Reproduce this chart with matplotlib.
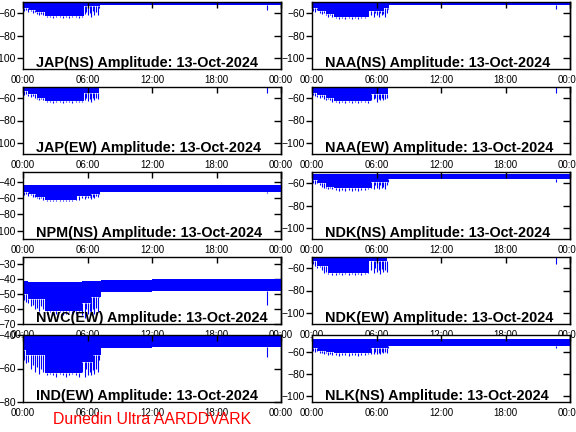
import numpy as np
import matplotlib
matplotlib.use("Agg")
from matplotlib import pyplot as plt  # noqa

plt.rcParams['font.family'] = ['Liberation Sans', 'DejaVu Sans']

date_label = '13-Oct-2024'
hour_ticks = [0, 6, 12, 18, 24]
hour_labels = ['00:00', '06:00', '12:00', '18:00', '00:00']

# hours at which single narrow spikes are drawn below the band
spike_hours = [0.1, 0.3, 0.5, 0.7, 0.9, 1.1, 1.3, 1.5, 1.7, 1.9,
               2.2, 2.5, 2.8, 3.1, 3.4, 3.7, 4.0, 4.3, 4.6, 4.9, 5.2, 5.5,
               5.75, 5.9, 6.05, 6.2, 6.35, 6.5, 6.65, 6.8, 6.95, 7.1,
               22.7]

# JAP(NS)
jap_ns_t = [0, 0.6, 1.2, 2.0, 5.7, 7.15, 14.6, 24]
jap_ns_low = [-55, -57, -59, -62.5, -54, -53, -52.3, -52.3]
jap_ns_top = [-45, -45, -45, -45, -45, -45, -45, -45]
jap_ns_spk = [-58, -57, -59, -58, -60, -59, -61, -62, -61, -62,
              -63.5, -63, -64, -63, -63.5, -64, -63, -64, -63.5, -63, -64, -63,
              -61, -59, -62, -60, -63, -58, -62, -59, -62, -55,
              -57]

# NAA(NS)
naa_ns_t = [0, 0.6, 1.3, 2.0, 5.3, 6.7, 7.2, 15, 24]
naa_ns_low = [-55, -58, -61, -63.5, -58, -55, -53, -52.3, -52.3]
naa_ns_top = [-45, -45, -45, -45, -45, -45, -45, -45, -45]
naa_ns_spk = [-58, -59, -57, -60, -61, -60, -62, -63, -62, -63,
              -64.5, -65, -64, -65, -64.5, -65, -64, -65, -64.5, -64, -63, -62,
              -63, -60, -62, -63, -60, -62, -61, -63, -60, -56,
              -56.5]

# JAP(EW)
jap_ew_t = [0, 0.5, 1.3, 2.0, 5.7, 7.1, 24]
jap_ew_low = [-54, -56, -60, -62.5, -55, -48, -48]
jap_ew_top = [-45, -45, -45, -45, -45, -45, -45]
jap_ew_spk = [-57, -56, -58, -59, -58, -60, -61, -62, -61, -62,
              -63.5, -63, -64, -63.5, -63, -64, -63, -63.5, -64, -63, -63.5, -63,
              -62, -60, -62.5, -61, -63, -60, -62, -60, -61, -49,
              -55]

# NAA(EW)
naa_ew_t = [0, 0.5, 1.3, 2.0, 5.5, 7.1, 24]
naa_ew_low = [-55, -57, -60, -62.5, -56, -48, -48]
naa_ew_top = [-45, -45, -45, -45, -45, -45, -45]
naa_ew_spk = [-57, -58, -59, -60, -59, -61, -62, -61, -62, -63,
              -63.5, -64, -63, -64, -63.5, -64, -63, -64, -63.5, -63, -64, -62,
              -61, -60, -63, -61, -62, -60, -62, -61, -60, -49,
              -55]

# NPM(NS)
npm_ns_t = [0, 0.6, 1.2, 2.0, 5.0, 6.3, 7.2, 12, 24]
npm_ns_low = [-53, -55, -58, -62, -57, -55, -52, -52.5, -52.5]
npm_ns_top = [-44.5, -44.5, -44.5, -44.5, -44.5, -44.5, -44, -43.5, -43.5]
npm_ns_spk = [-56, -55, -57, -56, -58, -59, -60, -61, -60, -62,
              -63, -64, -63, -64, -63.5, -64, -63, -64, -63, -61, -62, -60,
              -61, -58, -60, -59, -61, -58, -60, -57, -58, -54,
              -54]

# NDK(NS)
ndk_ns_t = [0, 0.6, 1.3, 2.0, 5.5, 7.1, 24]
ndk_ns_low = [-57, -60, -63, -64.5, -59, -56, -56]
ndk_ns_top = [-52, -52, -52, -52, -52, -52, -52]
ndk_ns_spk = [-60, -61, -60, -62, -63, -64, -64, -65, -64, -65,
              -66.5, -67, -66, -67, -66.5, -67, -66, -67, -66.5, -66, -65, -64,
              -65, -62, -64, -65, -62, -64, -63, -65, -62, -59,
              -59]

# NWC(EW)
nwc_ew_t = [0, 0.5, 2.0, 5.5, 6.3, 7.25, 12, 24]
nwc_ew_low = [-50, -53, -61, -56, -52, -48.5, -47.5, -47.5]
nwc_ew_top = [-41, -41.5, -42, -41, -41, -40.5, -40, -40]
nwc_ew_spk = [-54, -55, -56, -58, -57, -60, -59, -61, -58, -60,
              -63, -62, -64, -63, -62, -64, -63, -62, -64, -63, -62, -64,
              -66, -60, -63, -61, -64, -60, -63, -59, -62, -51,
              -57]

# NDK(EW)
ndk_ew_t = [0, 0.5, 1.5, 5.3, 7.0, 24]
ndk_ew_low = [-54, -58, -64, -54, -48, -48]
ndk_ew_top = [-45, -45, -45, -45, -45, -45]
ndk_ew_spk = [-56, -58, -60, -59, -62, -64, -63, -65, -64, -66,
              -66, -65, -66, -65, -66, -65, -66, -65, -66, -65, -63, -62,
              -64, -60, -63, -62, -65, -61, -63, -62, -63, -49,
              -56.5]

# IND(EW)
ind_ew_t = [0, 0.3, 2.0, 5.5, 6.5, 7.25, 12, 24]
ind_ew_low = [-49, -52, -62.5, -56, -52, -48, -47, -47]
ind_ew_top = [-38, -38, -38, -38, -38, -38, -38, -38]
ind_ew_spk = [-55, -57, -56, -60, -58, -62, -59, -63, -60, -62,
              -64, -63.5, -64, -65, -63.5, -64, -65, -64, -63.5, -64, -65, -62,
              -65, -60, -64, -62, -64, -61, -63, -60, -62, -55,
              -53]

# NLK(NS)
nlk_ns_t = [0, 0.6, 1.3, 2.0, 5.5, 7.1, 24]
nlk_ns_low = [-57, -59, -60, -61.5, -57, -54.5, -54.5]
nlk_ns_top = [-48.5, -48.5, -48.5, -48.5, -48.5, -48.5, -48.5]
nlk_ns_spk = [-59, -60, -59, -61, -61, -62, -61, -63, -62, -63,
              -63, -63.5, -63, -62.5, -63.5, -63, -62.5, -63.5, -63, -62.5, -62, -62,
              -62, -60, -62, -61, -62, -60, -61, -60, -61, -57,
              -57]

panels = [
    ('JAP(NS)', jap_ns_t, jap_ns_low, jap_ns_top, jap_ns_spk, (-110, -50), [-100, -80, -60]),
    ('NAA(NS)', naa_ns_t, naa_ns_low, naa_ns_top, naa_ns_spk, (-110, -50), [-100, -80, -60]),
    ('JAP(EW)', jap_ew_t, jap_ew_low, jap_ew_top, jap_ew_spk, (-110, -50), [-100, -80, -60]),
    ('NAA(EW)', naa_ew_t, naa_ew_low, naa_ew_top, naa_ew_spk, (-110, -50), [-100, -80, -60]),
    ('NPM(NS)', npm_ns_t, npm_ns_low, npm_ns_top, npm_ns_spk, (-110, -28), [-100, -80, -60, -40]),
    ('NDK(NS)', ndk_ns_t, ndk_ns_low, ndk_ns_top, ndk_ns_spk, (-110, -50), [-100, -80, -60]),
    ('NWC(EW)', nwc_ew_t, nwc_ew_low, nwc_ew_top, nwc_ew_spk, (-70, -25), [-70, -60, -50, -40, -30]),
    ('NDK(EW)', ndk_ew_t, ndk_ew_low, ndk_ew_top, ndk_ew_spk, (-110, -50), [-100, -80, -60]),
    ('IND(EW)', ind_ew_t, ind_ew_low, ind_ew_top, ind_ew_spk, (-80, -40), [-80, -60, -40]),
    ('NLK(NS)', nlk_ns_t, nlk_ns_low, nlk_ns_top, nlk_ns_spk, (-105, -45), [-100, -80, -60]),
]

W, H = 576, 432
col_x = [23, 312]
ax_w = 258
rows_px = [(2, 69), (87, 154), (172, 239), (257, 324), (335, 402)]

fig = plt.figure(figsize=(W / 100, H / 100), dpi=100)

for k, (name, t, low, top, spk, ylim, yticks) in enumerate(panels):
    r, c = divmod(k, 2)
    y0, y1 = rows_px[r]
    ax = fig.add_axes([col_x[c] / W, 1 - y1 / H, ax_w / W, (y1 - y0) / H])

    ax.fill_between(t, low, top, step='post', color='#0000ff', lw=0, zorder=1)
    idx = np.searchsorted(t, spike_hours, side='right') - 1
    spk_top = np.array(low)[idx]
    ax.vlines(spike_hours, spk, spk_top, color='#0000ff', lw=0.8, zorder=1)

    ax.set_xlim(0, 24)
    ax.set_ylim(*ylim)
    ax.set_xticks(hour_ticks)
    ax.set_xticklabels(hour_labels)
    ax.set_yticks(yticks)
    ax.tick_params(axis='x', direction='in', top=True, bottom=False, length=4, width=1,
                   labelsize=7, pad=4)
    ax.tick_params(axis='y', direction='out', length=4, width=1, labelsize=7.5, pad=1)
    right = ax.secondary_yaxis('right')
    right.set_yticks(yticks)
    right.tick_params(direction='in', length=5, width=1, labelright=False)
    for s in list(ax.spines.values()) + list(right.spines.values()):
        s.set_linewidth(1.0)

    ax.text(0.05, 0.035, name + ' Amplitude: ' + date_label, transform=ax.transAxes,
            fontsize=10.4, fontweight='bold', ha='left', va='baseline', zorder=5)

fig.text(53 / W, 1 - 424 / H, 'Dunedin Ultra AARDDVARK', color='#ff0000',
         fontsize=11.4, ha='left', va='baseline')

fig.savefig('out.png', dpi=100)
